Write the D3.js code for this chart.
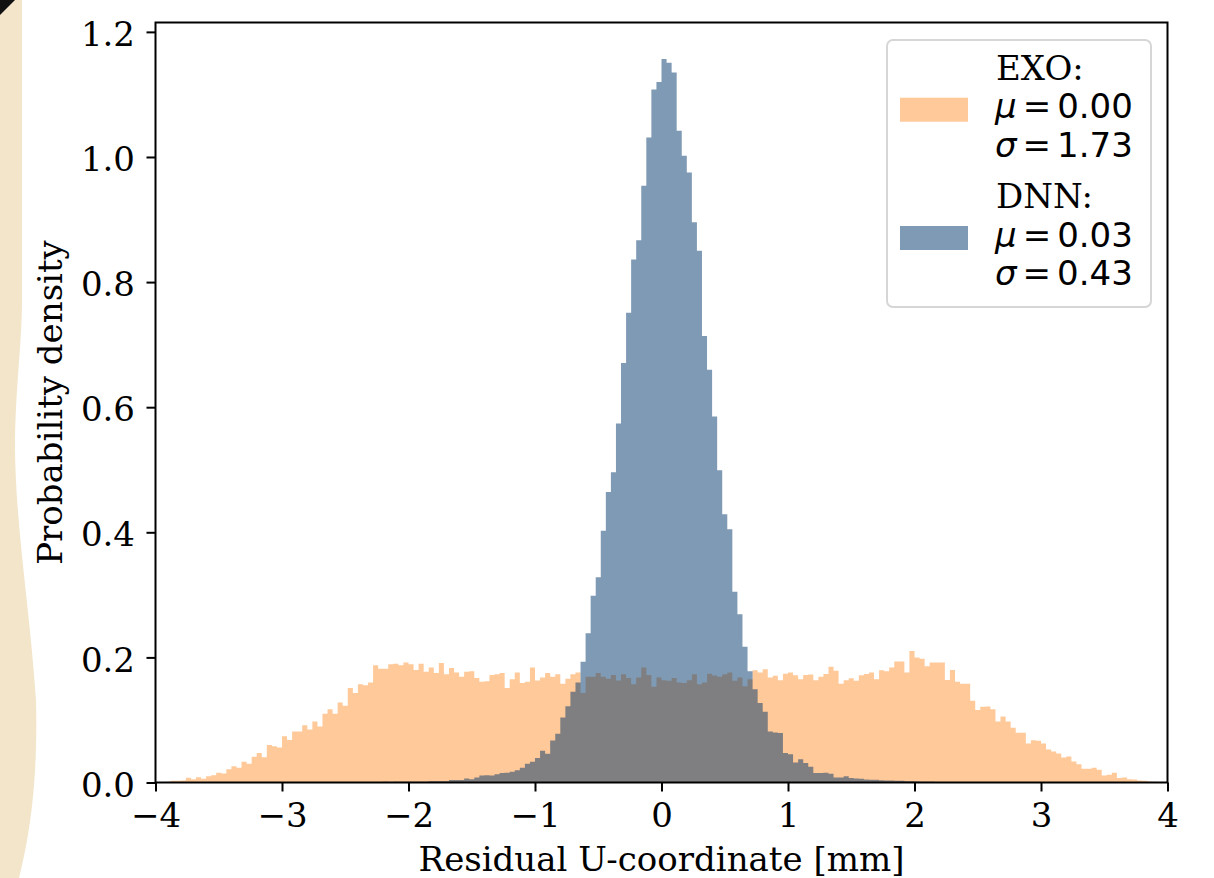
<!DOCTYPE html>
<html><head><meta charset="utf-8">
<script src="https://cdn.jsdelivr.net/npm/d3@7"></script>
<style>body{margin:0;background:#fff;overflow:hidden}</style>
</head><body>
<svg id="c" width="1214" height="878"></svg>
<script>
// ---- data ----
const binStart = -4, binWidth = 0.04;
const exoDensity = [
0.0005,0.0005,0.001,0.0027,0.0027,0.003,0.0075,0.0053,0.0085,0.006,
0.010,0.0117,0.0155,0.0144,0.0213,0.026,0.0234,0.033,0.030,0.041,
0.047,0.0405,0.060,0.058,0.056,0.074,0.068,0.0815,0.0815,0.0916,
0.0847,0.0975,0.0895,0.110,0.117,0.110,0.128,0.1225,0.151,0.143,
0.157,0.1556,0.160,0.1875,0.182,0.182,0.189,0.190,0.1875,0.192,
0.189,0.180,0.190,0.177,0.184,0.175,0.191,0.173,0.183,0.176,
0.169,0.177,0.178,0.167,0.161,0.162,0.172,0.173,0.175,0.151,
0.165,0.176,0.159,0.161,0.184,0.163,0.168,0.175,0.169,0.173,
0.158,0.166,0.173,0.176,0.143,0.169,0.169,0.175,0.169,0.166,
0.172,0.163,0.173,0.167,0.157,0.168,0.184,0.172,0.153,0.168,
0.1636,0.1625,0.167,0.160,0.159,0.1636,0.173,0.157,0.160,0.174,
0.171,0.169,0.173,0.176,0.1625,0.168,0.154,0.165,0.1795,0.176,
0.181,0.168,0.1705,0.1636,0.174,0.176,0.1715,0.165,0.172,0.1726,
0.1636,0.169,0.1736,0.185,0.1785,0.158,0.1636,0.1668,0.1625,0.1715,
0.1736,0.176,0.165,0.1795,0.178,0.184,0.1934,0.1934,0.176,0.2104,
0.1998,0.198,0.186,0.192,0.192,0.192,0.164,0.180,0.161,0.158,
0.158,0.1305,0.116,0.121,0.1215,0.117,0.0975,0.1055,0.0975,0.0874,
0.0794,0.0794,0.0623,0.0677,0.0666,0.0623,0.0527,0.0495,0.0464,0.040,
0.0416,0.0336,0.0293,0.0219,0.0219,0.0234,0.0202,0.0112,0.0123,0.0155,
0.007,0.008,0.0053,0.0048,0.0032,0.0027,0.0016,0.001,0.0005,0.0005
];
const dnnDensity = [
0,0,0,0,0,0,0,0,0,0,
0,0,0,0,0,0,0,0,0,0,
0,0,0,0,0,0.0002,0.0002,0.0003,0.0002,0.0003,
0.0003,0.0004,0.0003,0.0004,0.0005,0.0005,0.0006,0.0005,0.0007,0.0006,
0.0008,0.0007,0.0008,0.0009,0.0008,0.001,0.0009,0.0012,0.001,0.0011,
0.001,0.001,0.001,0.001,0.002,0.002,0.002,0.002,0.004,0.004,
0.004,0.0064,0.0053,0.008,0.011,0.0117,0.011,0.0133,0.015,0.0155,
0.017,0.0197,0.0234,0.030,0.033,0.039,0.0506,0.046,0.067,0.0778,
0.104,0.122,0.145,0.160,0.193,0.2385,0.2986,0.328,0.4025,0.4644,
0.4958,0.574,0.6706,0.751,0.8363,0.8667,0.954,1.031,1.108,1.120,
1.1565,1.1506,1.135,1.042,1.002,0.975,0.8955,0.850,0.714,0.660,
0.585,0.499,0.429,0.405,0.305,0.269,0.217,0.178,0.149,0.127,
0.113,0.0815,0.080,0.079,0.047,0.0453,0.032,0.037,0.031,0.025,
0.015,0.015,0.0155,0.014,0.008,0.008,0.010,0.007,0.0064,0.006,
0.0048,0.0043,0.0043,0.0037,0.0032,0.0032,0.0027,0.0027,0.002,0.002,
0.0015,0.001,0.0012,0.001,0.0008,0.0008,0.0006,0.0006,0.0005,0.0004,
0.0003,0.0003,0.0003,0.0003,0.0002,0.0002,0.0002,0.0002,0.0001,0.0001,
0,0,0,0,0,0,0,0,0,0,
0,0,0,0,0,0,0,0,0,0,
0,0,0,0,0,0,0,0,0,0
];
const xTicks = [-4,-3,-2,-1,0,1,2,3,4];
const yTicks = [0,0.2,0.4,0.6,0.8,1.0,1.2];
const seriesNames = ["EXO:", "DNN:"];
const seriesMu = ["0.00", "0.03"];
const seriesSigma = ["1.73", "0.43"];
const xLabel = "Residual U-coordinate [mm]";
const yLabel = "Probability density";

// ---- layout ----
const L = 155.5, R = 1167.5, T = 22.5, B = 782.5;
const serif = "'DejaVu Serif', serif";
const sans = "'DejaVu Sans', sans-serif";
const fs = 34;

const svg = d3.select("#c");

// left-edge decoration of the photographed page
svg.append("path")
  .attr("d", "M0,0 L22,0 L22,300 C22,345 15,390 15,450 C16,530 30,610 36,700 C38,780 30,835 19,878 L0,878 Z")
  .attr("fill", "#f3e5ca");
svg.append("path").attr("d", "M0,0 L15,0 L0,15 Z").attr("fill", "#111");

const x = d3.scaleLinear().domain([-4, 4]).range([L, R]);
const y = d3.scaleLinear().domain([0, 1.215]).range([B, T]);

function stepPoints(vals) {
  const pts = vals.map((v, i) => [binStart + i * binWidth, v]);
  pts.push([binStart + vals.length * binWidth, vals[vals.length - 1]]);
  return pts;
}
const area = d3.area()
  .x(d => x(d[0])).y0(y(0)).y1(d => y(d[1]))
  .curve(d3.curveStepAfter);

const series = [
  {vals: exoDensity, fill: "#ffc999", op: 1},
  {vals: dnnDensity, fill: "#00366a", op: 0.5}
];
svg.append("g").selectAll("path").data(series).join("path")
  .attr("d", d => area(stepPoints(d.vals)))
  .attr("fill", d => d.fill)
  .attr("fill-opacity", d => d.op);

// axes
const fmtX = d => d < 0 ? "\u2212" + Math.abs(d) : String(d);
const gx = svg.append("g").attr("transform", `translate(0,${B})`)
  .call(d3.axisBottom(x).tickValues(xTicks).tickFormat(fmtX).tickSize(9).tickSizeOuter(0).tickPadding(11));
const gy = svg.append("g").attr("transform", `translate(${L},0)`)
  .call(d3.axisLeft(y).tickValues(yTicks).tickFormat(d3.format(".1f")).tickSize(9).tickSizeOuter(0).tickPadding(11.5));
[gx, gy].forEach(g => {
  g.select(".domain").remove();
  g.selectAll(".tick line").attr("stroke", "#000").attr("stroke-width", 2);
  g.selectAll(".tick text").attr("font-family", serif).attr("font-size", fs).attr("fill", "#000");
});
gy.selectAll(".tick text").attr("dy", "0.4em");

svg.append("rect").attr("x", L).attr("y", T).attr("width", R - L).attr("height", B - T)
  .attr("fill", "none").attr("stroke", "#000").attr("stroke-width", 2);

// labels
svg.append("text").attr("x", (L + R) / 2).attr("y", 871).attr("text-anchor", "middle")
  .attr("font-family", serif).attr("font-size", fs).text(xLabel);
svg.append("text").attr("transform", `translate(62,${(T + B) / 2}) rotate(-90)`).attr("text-anchor", "middle")
  .attr("font-family", serif).attr("font-size", fs).text(yLabel);

// legend
const lg = svg.append("g");
lg.append("rect").attr("x", 887).attr("y", 40).attr("width", 264).attr("height", 267).attr("rx", 6)
  .attr("fill", "#fff").attr("fill-opacity", 0.8).attr("stroke", "#d6d6d6").attr("stroke-width", 2);
const lineH = 38.4;
seriesNames.forEach((name, i) => {
  const base = 80 + i * 128.3;
  lg.append("rect").attr("x", 900).attr("y", base + 17.7).attr("width", 68).attr("height", 24)
    .attr("fill", series[i].fill).attr("fill-opacity", series[i].op);
  lg.append("text").attr("x", 996).attr("y", base).attr("font-family", serif).attr("font-size", fs).text(name);
  [["\u03bc", seriesMu[i]], ["\u03c3", seriesSigma[i]]].forEach((pair, j) => {
    const t = lg.append("text").attr("x", 995).attr("y", base + lineH * (j + 1))
      .attr("font-family", sans).attr("font-size", fs);
    t.append("tspan").attr("font-style", "italic").text(pair[0]);
    t.append("tspan").attr("dx", 6).text("=");
    t.append("tspan").attr("dx", 6).text(pair[1]);
  });
});
</script>
</body></html>
